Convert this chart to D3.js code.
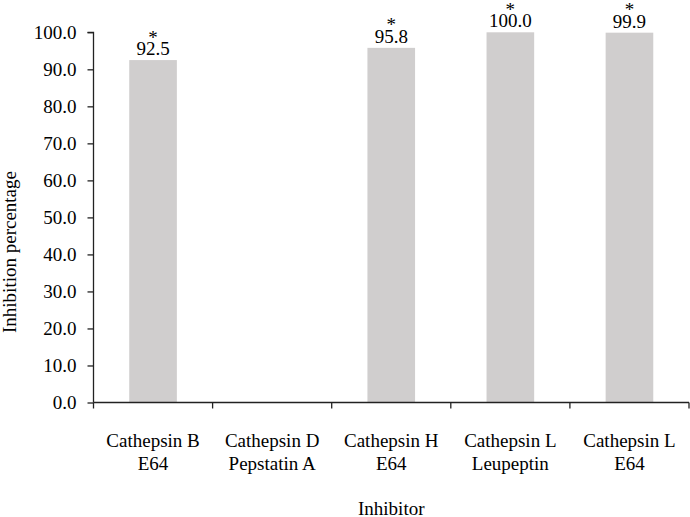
<!DOCTYPE html>
<html>
<head>
<meta charset="utf-8">
<script src="https://cdn.jsdelivr.net/npm/d3@7"></script>
<style>
  html, body { margin: 0; padding: 0; background: #fff; }
  svg { display: block; }
  text { font-family: "Liberation Serif", "Times New Roman", serif; fill: #000; }
</style>
</head>
<body>
<svg id="chart" width="690" height="517"></svg>
<script>
const categoryLine1 = ["Cathepsin B", "Cathepsin D", "Cathepsin H", "Cathepsin L", "Cathepsin L"];
const categoryLine2 = ["E64", "Pepstatin A", "E64", "Leupeptin", "E64"];
const values = [92.5, 0, 95.8, 100.0, 99.9];
const significance = ["*", "", "*", "*", "*"];
const yTicks = [0, 10, 20, 30, 40, 50, 60, 70, 80, 90, 100];
const xTitle = "Inhibitor";
const yTitle = "Inhibition percentage";

(function () {
const svg = d3.select("#chart");
const mLeft = 93.5, mRight = 689, mTop = 32.3, mBottom = 402.5;
const fs = 19;
const idx = categoryLine1.map((d, i) => i);

const x = d3.scaleBand().domain(idx).range([mLeft, mRight]).padding(0);
const y = d3.scaleLinear().domain([0, 100]).range([mBottom, mTop]);
const barW = x.bandwidth() * 0.4;

// bars
svg.append("g").selectAll("rect")
  .data(idx.filter(i => values[i] > 0))
  .join("rect")
  .attr("x", i => x(i) + x.bandwidth() / 2 - barW / 2)
  .attr("width", barW)
  .attr("y", i => y(values[i]))
  .attr("height", i => y(0) - y(values[i]))
  .attr("fill", "#d0cece");

// y axis
const yAxis = d3.axisLeft(y).tickValues(yTicks).tickFormat(d3.format(".1f")).tickSize(6).tickPadding(11);
const gy = svg.append("g").attr("transform", `translate(${mLeft},0)`).call(yAxis);
gy.attr("font-family", null);
gy.select(".domain").attr("stroke", "#222").attr("stroke-width", 1.3).attr("d", `M-6,${mTop}H0V${mBottom}`);
gy.selectAll(".tick line").attr("stroke", "#222").attr("stroke-width", 1.3);
gy.selectAll(".tick text").attr("font-size", fs).attr("fill", "#000");

// x axis line
svg.append("line").attr("x1", mLeft).attr("x2", mRight).attr("y1", mBottom).attr("y2", mBottom)
  .attr("stroke", "#222").attr("stroke-width", 1.3);
// boundary ticks
const bounds = idx.map(i => x(i)).concat([x(idx[idx.length - 1]) + x.bandwidth()]);
svg.append("g").selectAll("line").data(bounds).join("line")
  .attr("x1", d => d).attr("x2", d => d).attr("y1", mBottom).attr("y2", mBottom + 6)
  .attr("stroke", "#222").attr("stroke-width", 1.3);

// category labels
const cl = svg.append("g").selectAll("text").data(idx).join("text")
  .attr("text-anchor", "middle")
  .attr("font-size", fs)
  .attr("x", i => x(i) + x.bandwidth() / 2);
cl.append("tspan").attr("x", i => x(i) + x.bandwidth() / 2).attr("y", 446.5).text(i => categoryLine1[i]);
cl.append("tspan").attr("x", i => x(i) + x.bandwidth() / 2).attr("y", 469.5).text(i => categoryLine2[i]);

// value labels (star + value in one text)
const vl = svg.append("g").selectAll("text").data(idx.filter(i => values[i] > 0)).join("text")
  .attr("text-anchor", "middle").attr("font-size", fs);
vl.append("tspan")
  .attr("x", i => x(i) + x.bandwidth() / 2)
  .attr("y", i => y(values[i]) - 5 - 11.5)
  .text(i => significance[i]);
vl.append("tspan")
  .attr("x", i => x(i) + x.bandwidth() / 2)
  .attr("y", i => y(values[i]) - 5)
  .text(i => values[i].toFixed(1));

// axis titles
svg.append("text").attr("text-anchor", "middle").attr("font-size", fs)
  .attr("x", (mLeft + mRight) / 2).attr("y", 514.5).text(xTitle);
svg.append("text").attr("text-anchor", "middle").attr("font-size", fs)
  .attr("transform", "translate(15.5,252) rotate(-90)").text(yTitle);
})();
</script>
</body>
</html>
